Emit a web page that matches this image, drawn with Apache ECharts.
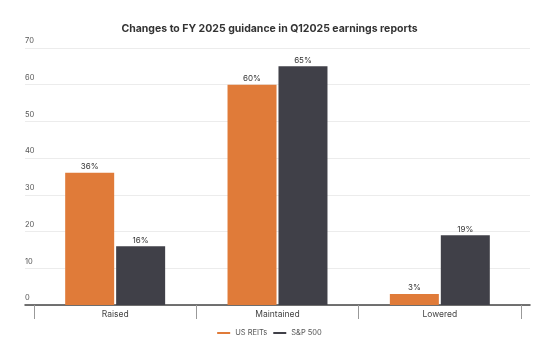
<!DOCTYPE html>
<html><head><meta charset="utf-8">
<script src="https://cdn.jsdelivr.net/npm/echarts@6/dist/echarts.min.js"></script>
<style>html,body{margin:0;padding:0;background:#fff}#c{width:539px;height:345px}</style>
</head><body><div id="c"></div>
<script>
const categories = ['Raised', 'Maintained', 'Lowered'];
const usReits = [36, 60, 3];
const sp500 = [16, 65, 19];
const seriesNames = ['US REITs', 'S&P 500'];
const yTicks = {min: 0, max: 70, interval: 10};
const titleText = 'Changes to FY 2025 guidance in Q12025 earnings reports';

const ORANGE = '#E07B39', DARK = '#404048';
const chart = echarts.init(document.getElementById('c'));
const lbl = {show: true, position: 'top', distance: 2, fontSize: 8, color: '#333', fontFamily: 'Inter',
  formatter: p => p.value + '%'};
chart.setOption({
  animation: false,
  title: {text: titleText, left: 'center', top: 18,
    textStyle: {fontSize: 10.5, fontWeight: 'bold', color: '#333', fontFamily: 'Inter'}},
  legend: {bottom: 3, left: 'center', itemWidth: 13, itemHeight: 2, itemGap: 6,
    icon: 'rect', textStyle: {fontSize: 7.5, color: '#555', fontFamily: 'Inter'},
    data: seriesNames},
  grid: [
    {left: 25, right: 9, top: 48, bottom: 40},
    {left: 34, right: 18, top: 48, bottom: 40}
  ],
  xAxis: [
    {gridIndex: 0, type: 'value', min: 0, max: 1, axisLabel: {show: false}, axisTick: {show: false},
      splitLine: {show: false}, axisLine: {show: true, lineStyle: {color: '#444', width: 1.5}}},
    {gridIndex: 1, type: 'category', data: categories,
      axisLine: {show: false},
      axisTick: {show: true, length: 14, lineStyle: {color: '#999'}},
      axisLabel: {margin: 5, fontSize: 8.5, color: '#444', fontFamily: 'Inter'}}
  ],
  yAxis: [
    {gridIndex: 0, type: 'value', min: yTicks.min, max: yTicks.max, interval: yTicks.interval,
      axisLine: {show: false}, axisTick: {show: false},
      axisLabel: {inside: true, margin: 0, verticalAlign: 'bottom', padding: [0, 0, 3, 0],
        fontSize: 7.5, color: '#555', fontFamily: 'Inter'},
      splitLine: {lineStyle: {color: '#ececec'}}},
    {gridIndex: 1, type: 'value', min: yTicks.min, max: yTicks.max, interval: yTicks.interval, show: false}
  ],
  series: [
    {name: seriesNames[0], type: 'bar', xAxisIndex: 1, yAxisIndex: 1, data: usReits,
      barWidth: 49, barGap: '4%', itemStyle: {color: ORANGE}, label: lbl},
    {name: seriesNames[1], type: 'bar', xAxisIndex: 1, yAxisIndex: 1, data: sp500,
      barWidth: 49, barGap: '4%', itemStyle: {color: DARK}, label: lbl}
  ]
});
</script></body></html>
